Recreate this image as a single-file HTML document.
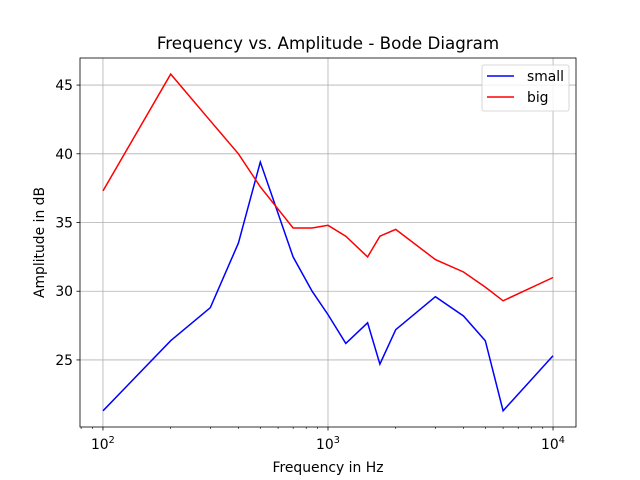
<!DOCTYPE html>
<html><head><meta charset="utf-8"><style>body{margin:0;background:#fff}svg{display:block;font-family:"DejaVu Sans","Liberation Sans",sans-serif}</style></head>
<body>
<svg id="c" width="640" height="480"></svg>
<script>
const freqs=[100,200,300,400,500,700,850,1000,1200,1500,1700,2000,3000,4000,5000,6000,10000];
const smallVals=[21.3,26.4,28.8,33.5,39.4,32.5,30.0,28.3,26.2,27.7,24.7,27.2,29.6,28.2,26.4,21.3,25.3];
const bigVals=[37.3,45.8,42.4,40.0,37.6,34.6,34.6,34.8,34.0,32.5,34.0,34.5,32.3,31.4,30.3,29.3,31.0];
const yTicks=[25,30,35,40,45];
const xTickExps=[2,3,4];
const L=80,R=576,T=58,B=427;
const xmin=1.898,xmax=4.102,ymin=20.12,ymax=46.97;
const sx=v=>L+(Math.log10(v)-xmin)/(xmax-xmin)*(R-L);
const sy=v=>B-(v-ymin)/(ymax-ymin)*(B-T);
const svg=document.getElementById('c');const NS='http://www.w3.org/2000/svg';
function mk(t,a,p){const e=document.createElementNS(NS,t);for(const k in a)e.setAttribute(k,a[k]);(p||svg).appendChild(e);return e;}
yTicks.forEach(v=>{const y=sy(v);
const g=mk('line',{x1:L,x2:R,y1:y,y2:y,stroke:'#b0b0b0','stroke-width':0.8});

mk('line',{x1:L-3.5,x2:L,y1:y,y2:y,stroke:'#000','stroke-width':0.8});
const t=mk('text',{x:L-7,y:y+5,'text-anchor':'end','font-size':13.9});t.textContent=v;
});
xTickExps.forEach(e=>{const x=sx(Math.pow(10,e));
const g=mk('line',{x1:x,x2:x,y1:T,y2:B,stroke:'#b0b0b0','stroke-width':0.8});

mk('line',{x1:x,x2:x,y1:B,y2:B+3.5,stroke:'#000','stroke-width':0.8});
const t=mk('text',{x:x-12,y:B+22,'font-size':13.9});t.textContent='10';
const s=mk('tspan',{dy:-6,'font-size':9.7},t);s.textContent=e;
});
for(let e=1;e<=4;e++)for(let m=2;m<=9;m++){const v=m*Math.pow(10,e);const lv=Math.log10(v);if(lv<xmin||lv>xmax)continue;const x=sx(v);mk('line',{x1:x,x2:x,y1:B,y2:B+2,stroke:'#000','stroke-width':0.6});}
function series(vals,color,name){const d=freqs.map((f,i)=>(i?'L':'M')+sx(f).toFixed(1)+','+sy(vals[i]).toFixed(1)).join('');
const p=mk('path',{d:d,fill:'none',stroke:color,'stroke-width':1.5});}
series(smallVals,'#0000ff','series-small');
series(bigVals,'#ff0000','series-big');
const fr=mk('rect',{x:L,y:T,width:R-L,height:B-T,fill:'none',stroke:'#000','stroke-width':0.8});

let t=mk('text',{x:(L+R)/2,y:49,'text-anchor':'middle','font-size':16.7});t.textContent='Frequency vs. Amplitude - Bode Diagram';

t=mk('text',{x:(L+R)/2,y:472,'text-anchor':'middle','font-size':13.9});t.textContent='Frequency in Hz';

t=mk('text',{x:0,y:0,'text-anchor':'middle','font-size':13.9,transform:'translate(44,'+((T+B)/2)+') rotate(-90)'});t.textContent='Amplitude in dB';

const lg=mk('g',{});
mk('rect',{x:482,y:65,width:87,height:46,rx:2,fill:'#fff','fill-opacity':0.8,stroke:'#ccc','stroke-width':0.8},lg);
[['small','#0000ff',76],['big','#ff0000',97]].forEach(([n,c,y])=>{
const e=mk('g',{},lg);
mk('line',{x1:487,x2:514,y1:y,y2:y,stroke:c,'stroke-width':1.5},e);
const tt=mk('text',{x:527,y:y+5,'font-size':13.9},e);tt.textContent=n;});
</script>
</body></html>
